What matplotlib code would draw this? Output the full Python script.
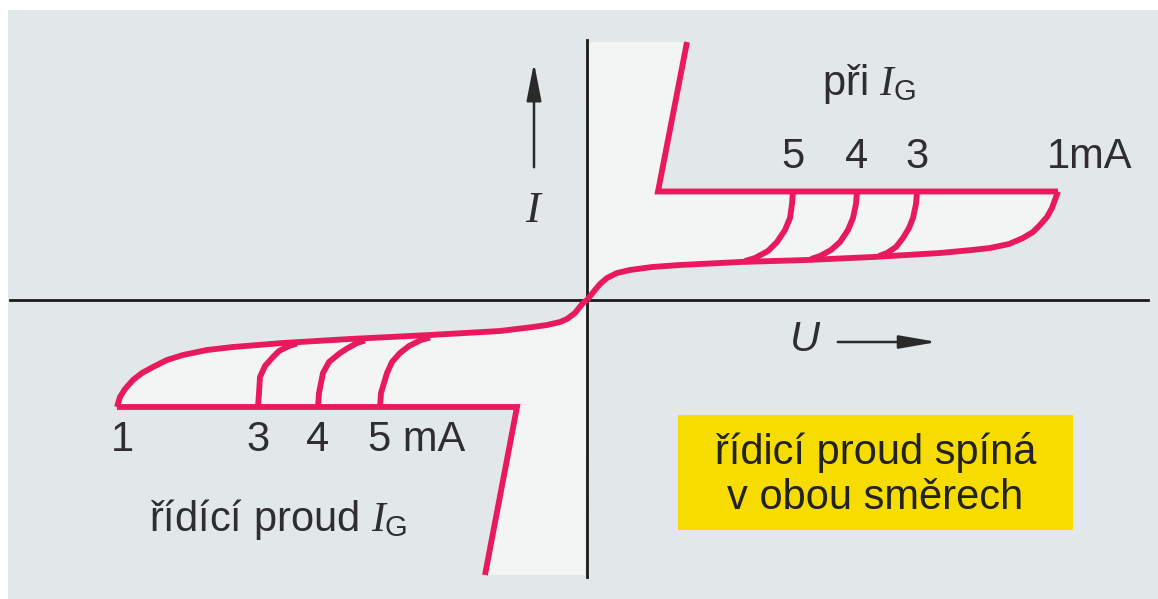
import matplotlib
matplotlib.use("Agg")
import matplotlib.pyplot as plt
from matplotlib.patches import Rectangle

plt.rcParams['font.family'] = ['Liberation Sans', 'DejaVu Sans']
plt.rcParams['mathtext.fontset'] = 'custom'
plt.rcParams['mathtext.rm'] = 'Liberation Sans'
plt.rcParams['mathtext.it'] = 'Liberation Serif:italic'

# --- characteristic curves (U, I in drawing units) ---
# upper quadrant: off-state branch for IG = 1 mA, from origin to break-over
fwd_off_u = [0, 0.4, 0.8, 1.3, 2.0, 3.0, 4.3, 6.5, 9.3, 15.3, 22.0, 28.6, 35.3, 38.5, 40.3, 42.2, 43.6, 44.6, 45.3, 46.0, 46.5, 47.1]
fwd_off_i = [0, 0.5, 1.0, 1.6, 2.2, 2.7, 3.0, 3.3, 3.5, 3.8, 4.0, 4.3, 4.7, 5.0, 5.2, 5.6, 6.2, 6.8, 7.5, 8.3, 9.2, 10.85]
# on-state: horizontal jump line and steep conduction line
fwd_on_u = [47.1, 7.1, 10.0]
fwd_on_i = [10.85, 10.85, 25.8]
# break-over branches for IG = 3, 4, 5 mA
fwd_branch_u = {
    3: [33.0, 32.9, 32.6, 32.2, 31.6, 30.9, 30.0, 29.2],
    4: [27.0, 26.9, 26.6, 26.1, 25.3, 24.4, 23.3, 22.4],
    5: [20.6, 20.5, 20.3, 19.8, 19.0, 18.1, 16.8, 15.8],
}
fwd_branch_i = {
    3: [10.85, 9.6, 8.2, 7.2, 6.2, 5.3, 4.7, 4.4],
    4: [10.85, 9.6, 8.2, 7.0, 5.8, 5.0, 4.4, 4.1],
    5: [10.85, 9.6, 8.2, 7.0, 5.8, 4.9, 4.2, 3.9],
}

# lower quadrant: reverse direction
rev_off_u = [0, -0.4, -1.2, -2.0, -2.7, -4.0, -5.4, -8.7, -15.7, -23.7, -30.4, -35.4, -38.0, -40.4, -42.0, -43.4, -44.5, -45.4, -46.2, -46.7, -47.0]
rev_off_i = [0, -0.3, -1.3, -1.9, -2.2, -2.5, -2.7, -3.1, -3.5, -3.9, -4.3, -4.7, -5.0, -5.5, -6.0, -6.7, -7.3, -8.0, -8.9, -9.7, -10.7]
rev_on_u = [-47.0, -7.0, -10.2]
rev_on_i = [-10.7, -10.7, -27.5]
rev_branch_u = {
    3: [-32.9, -32.8, -32.7, -32.2, -31.4, -30.8, -29.8, -29.0],
    4: [-26.9, -26.8, -26.4, -25.8, -24.7, -23.9, -23.0, -22.2],
    5: [-20.7, -20.6, -20.0, -19.5, -18.7, -17.8, -16.6, -15.7],
}
rev_branch_i = {
    3: [-10.7, -9.3, -7.7, -6.6, -5.7, -5.1, -4.6, -4.35],
    4: [-10.7, -9.3, -7.3, -6.2, -5.3, -4.8, -4.3, -4.05],
    5: [-10.7, -9.3, -7.3, -6.2, -5.3, -4.6, -4.0, -3.75],
}

fwd_labels = ['5', '4', '3', '1mA']
rev_labels = ['1', '3', '4', '5 mA']

PINK = '#E8195C'
BG = '#E2E8EA'
TXT = '#2E2E2E'
FS = 30

fig = plt.figure(figsize=(11.58, 5.99), dpi=100)
fig.patch.set_facecolor('white')
ax = fig.add_axes([8 / 1158, 0, 1150 / 1158, 589 / 599])
ax.set_xlim(-57.9, 57.1)
ax.set_ylim(-29.9, 29.0)
ax.set_facecolor(BG)
ax.axis('off')
ax.add_patch(Rectangle((-57.9, -29.9), 115, 58.9, facecolor=BG, edgecolor='none', zorder=0))

# light areas between axis, conduction line and hysteresis loops
ax.fill(fwd_off_u + fwd_on_u[1:] + [0.2], fwd_off_i + fwd_on_i[1:] + [25.8],
        color='#F3F5F5', lw=0, zorder=1)
ax.fill(rev_off_u + rev_on_u[1:] + [-0.2], rev_off_i + rev_on_i[1:] + [-27.5],
        color='#F3F5F5', lw=0, zorder=1)

# coordinate axes
ax.plot([0, 0], [-27.7, 26.0], color='#1A1A1A', lw=2, zorder=2)
ax.plot([-57.7, 56.1], [0, 0], color='#1A1A1A', lw=2, zorder=2)

kw = dict(color=PINK, lw=4.2, solid_joinstyle='miter', solid_capstyle='butt', zorder=3)
ax.plot(fwd_off_u, fwd_off_i, **kw)
ax.plot(fwd_on_u, fwd_on_i, **kw)
ax.plot(rev_off_u, rev_off_i, **kw)
ax.plot(rev_on_u, rev_on_i, **kw)
for k in fwd_branch_u:
    ax.plot(fwd_branch_u[k], fwd_branch_i[k], **kw)
    ax.plot(rev_branch_u[k], rev_branch_i[k], **kw)

# axis arrows and symbols
ax.annotate('', xy=(-5.3, 24.0), xytext=(-5.3, 13.0),
            arrowprops=dict(arrowstyle='-|>,head_length=2.3,head_width=0.45', color='#2A2A2A', lw=1.8))
ax.text(-5.3, 9.0, '$I$', fontsize=FS + 2, color=TXT, ha='center', va='center')
ax.annotate('', xy=(35.3, -4.2), xytext=(24.8, -4.2),
            arrowprops=dict(arrowstyle='-|>,head_length=2.3,head_width=0.4', color='#2A2A2A', lw=1.8))
ax.text(21.8, -4.0, 'U', fontsize=FS, style='italic', color=TXT, ha='center', va='center')

# gate-current labels
ax.text(28.2, 21.6, r'při $I_{\mathrm{G}}$', fontsize=FS, color=TXT, ha='center', va='center')
for x, s in zip([20.6, 27.0, 33.0], fwd_labels[:3]):
    ax.text(x, 14.3, s, fontsize=FS, color=TXT, ha='center', va='center')
ax.text(50.3, 14.3, fwd_labels[3], fontsize=FS, color=TXT, ha='center', va='center')

ax.text(-46.5, -14.0, rev_labels[0], fontsize=FS, color=TXT, ha='center', va='center')
for x, s in zip([-32.9, -26.9], rev_labels[1:3]):
    ax.text(x, -14.0, s, fontsize=FS, color=TXT, ha='center', va='center')
ax.text(-21.9, -14.0, rev_labels[3], fontsize=FS, color=TXT, ha='left', va='center')
ax.text(-43.8, -22.0, r'řídící proud $I_{\mathrm{G}}$', fontsize=FS, color=TXT,
        ha='left', va='center')

# yellow note box
ax.add_patch(Rectangle((9.1, -23.0), 39.5, 11.5, facecolor='#F7DC00', edgecolor='none', zorder=2))
ax.text(28.85, -17.5, 'řídicí proud spíná\nv obou směrech', fontsize=FS, color='#222222',
        ha='center', va='center', linespacing=1.15, zorder=3)

fig.savefig('out.png', dpi=100, facecolor='white')
